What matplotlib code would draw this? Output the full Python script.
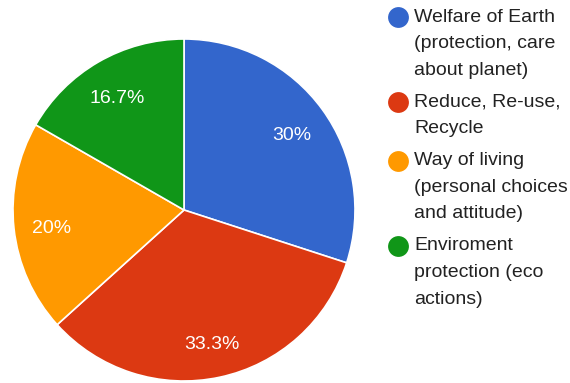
import matplotlib
matplotlib.use("Agg")
import matplotlib.pyplot as plt
import matplotlib.transforms as mtransforms

plt.rcParams['font.family'] = ['Liberation Sans', 'DejaVu Sans']

# answer shares (percent), clockwise from 12 o'clock
labels = [
    "Welfare of Earth\n(protection, care\nabout planet)",
    "Reduce, Re-use,\nRecycle",
    "Way of living\n(personal choices\nand attitude)",
    "Enviroment\nprotection (eco\nactions)",
]
shares = [30, 33.3, 20, 16.7]
colours = ["#3366cc", "#dc3912", "#ff9900", "#109618"]

W, H = 570, 383
fig = plt.figure(figsize=(W / 100, H / 100), dpi=100)

# pie axes: centre (184, 210) px, radius 171 px
cx, cy, r = 184, 210, 171
ax = fig.add_axes([(cx - r) / W, (H - cy - r) / H, 2 * r / W, 2 * r / H])


def fmt(p):
    s = f"{p:.1f}"
    if s.endswith(".0"):
        s = s[:-2]
    return s + "%"


wedges, _, autotexts = ax.pie(
    shares, colors=colours, startangle=90, counterclock=False,
    autopct=fmt, pctdistance=0.78, radius=1,
    wedgeprops=dict(edgecolor="white", linewidth=1.2),
    textprops=dict(color="white", fontsize=14),
)
# nudge the percentage labels a few pixels down
shift = mtransforms.ScaledTranslation(0, -3 / 72, fig.dpi_scale_trans)
for t in autotexts:
    t.set_transform(t.get_transform() + shift)

ax.set_xlim(-1, 1)
ax.set_ylim(-1, 1)
ax.set_aspect("equal")
ax.axis("off")

# legend drawn in pixel coordinates on an overlay
lg = fig.add_axes([0, 0, 1, 1])
lg.set_xlim(0, W)
lg.set_ylim(H, 0)
lg.axis("off")

line_h = 26.7
y = 17
for lab, col in zip(labels, colours):
    lg.scatter([398], [y], s=15 ** 2, color=col, marker="o", linewidths=0)
    for i, ln in enumerate(lab.split("\n")):
        lg.text(414, y + i * line_h, ln, fontsize=14, color="#222222",
                va="center", ha="left")
    y += line_h * len(lab.split("\n")) + 5

fig.savefig("out.png", dpi=100)
